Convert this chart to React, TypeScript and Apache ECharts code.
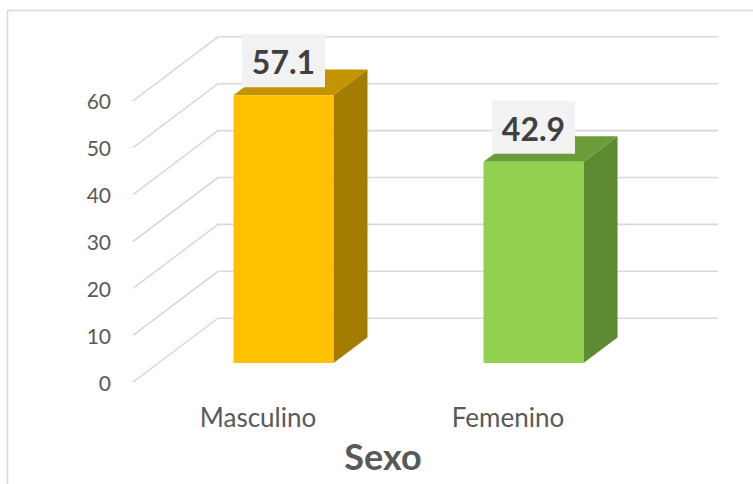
import React, { useEffect, useRef } from "react";
import * as echarts from "echarts";

const categories = ["Masculino", "Femenino"];
const values = [57.1, 42.9];
const frontColors = ["#FFC000", "#92D050"];
const topColors = ["#C39300", "#6C9C3A"];
const sideColors = ["#A37C00", "#5E8A31"];
const yTicks = [0, 10, 20, 30, 40, 50, 60];
const axisTitle = "Sexo";

// perspective depth vector (front plane -> back wall)
const DX = 85;
const DY = -64;
const FRONT_FRAC = 0.3; // bar front face depth from front plane
const BAR_DEPTH = 0.4;
const FONT = "Lato, 'Open Sans', sans-serif";

export default function App() {
  const ref = useRef<HTMLDivElement>(null);
  useEffect(() => {
    if (!ref.current) return;
    const chart = echarts.init(ref.current, undefined, { renderer: "svg" });
    const option: any = {
      animation: false,
      backgroundColor: "#ffffff",
      graphic: [
        {
          type: "rect",
          shape: { x: 7.5, y: 10.5, width: 780, height: 500 },
          style: { fill: "none", stroke: "#D9D9D9", lineWidth: 1.5 },
          silent: true,
          z: -10,
        },
      ],
      grid: [
        { left: 158.5, top: 81.6, width: 500, height: 281.4 },
        { left: 133, top: 100.8, width: 500, height: 281.4 },
      ],
      xAxis: [
        {
          type: "category",
          gridIndex: 0,
          data: categories,
          show: false,
        },
        {
          type: "category",
          gridIndex: 1,
          data: categories,
          axisLine: { show: false },
          axisTick: { show: false },
          axisLabel: {
            margin: 22,
            fontSize: 26,
            fontFamily: FONT,
            color: "#595959",
          },
          name: axisTitle,
          nameLocation: "middle",
          nameGap: 56,
          nameTextStyle: {
            fontSize: 36,
            fontWeight: "bold",
            fontFamily: FONT,
            color: "#595959",
          },
        },
      ],
      yAxis: [
        {
          type: "value",
          gridIndex: 0,
          min: 0,
          max: 60,
          interval: 10,
          show: false,
          splitLine: { show: false },
        },
        {
          type: "value",
          gridIndex: 1,
          min: 0,
          max: 60,
          interval: 10,
          axisLine: { show: false },
          axisTick: { show: false },
          splitLine: { show: false },
          axisLabel: {
            margin: 22,
            fontSize: 21,
            fontFamily: FONT,
            color: "#595959",
          },
        },
      ],
      series: [
        {
          type: "custom",
          xAxisIndex: 0,
          yAxisIndex: 0,
          clip: false,
          silent: true,
          z: 1,
          data: yTicks.map((v) => [0, v]),
          renderItem: (params: any, api: any) => {
            const cs = params.coordSys;
            const y = api.coord([0, api.value(1)])[1];
            const left = cs.x;
            const right = cs.x + cs.width;
            const pts = [
              [left - FRONT_FRAC * DX, y - FRONT_FRAC * DY],
              [left + (1 - FRONT_FRAC) * DX, y + (1 - FRONT_FRAC) * DY],
              [right + (1 - FRONT_FRAC) * DX, y + (1 - FRONT_FRAC) * DY],
            ];
            return {
              type: "polyline",
              shape: { points: pts },
              style: { stroke: "#D9D9D9", lineWidth: 1.6, fill: "none" },
            };
          },
        },
        {
          type: "custom",
          xAxisIndex: 0,
          yAxisIndex: 0,
          clip: false,
          z: 2,
          data: values.map((v, i) => [i, v]),
          renderItem: (params: any, api: any) => {
            const idx = params.dataIndex;
            const v = api.value(1);
            const top = api.coord([api.value(0), v]);
            const base = api.coord([api.value(0), 0]);
            const w = api.size([1, 0])[0] * 0.4;
            const cx = top[0];
            const x0 = cx - w / 2;
            const x1 = cx + w / 2;
            const ty = top[1];
            const by = base[1];
            const dx = BAR_DEPTH * DX;
            const dy = BAR_DEPTH * DY;
            const boxW = 83;
            const boxH = 53;
            const boxBottom = ty - 8;
            return {
              type: "group",
              children: [
                {
                  type: "polygon",
                  shape: {
                    points: [
                      [x1, ty],
                      [x1 + dx, ty + dy],
                      [x1 + dx, by + dy],
                      [x1, by],
                    ],
                  },
                  style: { fill: sideColors[idx] },
                },
                {
                  type: "polygon",
                  shape: {
                    points: [
                      [x0, ty],
                      [x0 + dx, ty + dy],
                      [x1 + dx, ty + dy],
                      [x1, ty],
                    ],
                  },
                  style: { fill: topColors[idx] },
                },
                {
                  type: "rect",
                  shape: { x: x0, y: ty, width: x1 - x0, height: by - ty },
                  style: { fill: frontColors[idx] },
                },
                {
                  type: "rect",
                  shape: {
                    x: cx - boxW / 2,
                    y: boxBottom - boxH,
                    width: boxW,
                    height: boxH,
                  },
                  style: { fill: "#F2F2F2" },
                },
                {
                  type: "text",
                  style: {
                    text: String(values[idx]),
                    x: cx,
                    y: boxBottom - boxH / 2 + 1,
                    align: "center",
                    verticalAlign: "middle",
                    fontSize: 32,
                    fontWeight: "bold",
                    fontFamily: FONT,
                    fill: "#404040",
                  },
                },
              ],
            };
          },
        },
      ],
    };
    chart.setOption(option);
    return () => chart.dispose();
  }, []);
  return (
    <div
      ref={ref}
      style={{ position: "fixed", left: 0, top: 0, width: 753, height: 484 }}
    />
  );
}
